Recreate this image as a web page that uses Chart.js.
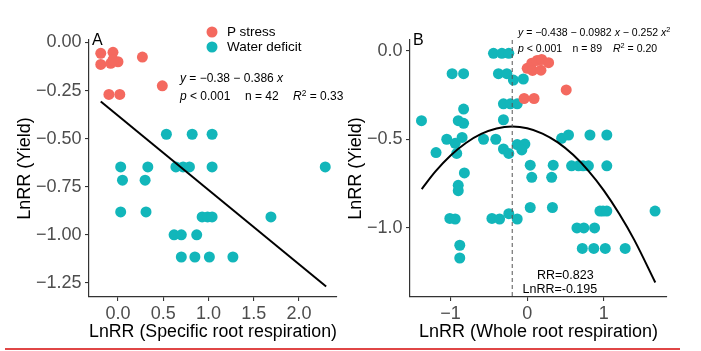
<!DOCTYPE html>
<html><head><meta charset="utf-8">
<script src="https://cdn.jsdelivr.net/npm/chart.js@4/dist/chart.umd.min.js"></script>
<style>
html,body{margin:0;padding:0;background:#fff;width:701px;height:351px;overflow:hidden;font-family:"Liberation Sans",Arial,sans-serif;}
#wrap{position:relative;width:701px;height:351px;}
canvas{position:absolute;top:0;}
#cA{left:0;} #cB{left:335px;}
.t{position:absolute;white-space:nowrap;color:#000;line-height:1;transform:translateY(-50%);}
.t sup{font-size:0.7em;vertical-align:0.45em;line-height:0;}
.lg{position:absolute;width:11px;height:11px;border-radius:50%;transform:translate(-50%,-50%);}
#redline{position:absolute;left:5px;top:348px;width:675px;height:1.5px;background:#e04646;}
</style></head><body>
<div id="wrap">
<canvas id="cA" width="350" height="351"></canvas>
<canvas id="cB" width="366" height="351"></canvas>
<div id="overlay"></div>
<div id="redline"></div>
</div>
<script>
// ---------- data ----------
const seriesNames = ["P stress", "Water deficit"];
const seriesColors = ["#F4695F", "#12B6BA"];

// Panel A: LnRR (Specific root respiration) vs LnRR (Yield)
const aPStressX = [-0.19, -0.055, -0.19, -0.08, 0.0, -0.055, 0.27, 0.49, -0.10, 0.02];
const aPStressY = [-0.056, -0.051, -0.114, -0.108, -0.100, -0.091, -0.076, -0.225, -0.270, -0.270];
const aWaterX = [0.535, 0.82, 1.04,
  0.03, 0.33, 0.64, 0.72, 0.79, 1.04, 2.29,
  0.05, 0.30,
  0.03, 0.31,
  0.93, 0.99, 1.04, 1.69,
  0.62, 0.70, 0.87,
  0.70, 0.85, 1.01, 1.27];
const aWaterY = [-0.477, -0.477, -0.477,
  -0.647, -0.647, -0.647, -0.647, -0.647, -0.647, -0.647,
  -0.716, -0.716,
  -0.881, -0.881,
  -0.907, -0.907, -0.907, -0.907,
  -1.0, -1.0, -1.0,
  -1.115, -1.115, -1.115, -1.115];
const aFitX = [-0.19, 2.30];
const aFitY = [-0.307, -1.268];

// Panel B: LnRR (Whole root respiration) vs LnRR (Yield)
const bPStressX = [0.0, 0.06, 0.13, 0.19, 0.28, 0.07, 0.18, -0.04, 0.09, 0.51];
const bPStressY = [-0.10, -0.071, -0.055, -0.05, -0.068, -0.112, -0.11, -0.27, -0.27, -0.222];
const bWaterX = [-0.44, -0.33, -0.24,
  -0.98, -0.83, -0.375, -0.265, -0.18, -0.05,
  -0.83,
  -0.31, -0.22, -0.13,
  -1.38, -0.90, -0.83, -0.31,
  -1.05, -0.94, -0.85,
  -1.19, -0.92,
  -0.57, -0.41,
  -0.31, -0.24, -0.13, -0.03, -0.07,
  0.45, 0.54, 0.82, 1.04,
  0.04, 0.34, 0.58, 0.67, 0.73, 0.80, 1.04,
  -0.82,
  0.06, 0.32,
  -0.90, -0.90,
  0.04, 0.33,
  0.95, 0.99, 1.04, 1.67,
  -1.01, -0.94,
  -0.46, -0.36, -0.24, -0.13,
  0.65, 0.74, 0.88,
  -0.88, -0.88,
  0.72, 0.87, 1.02, 1.28];
const bWaterY = [-0.015, -0.015, -0.015,
  -0.13, -0.13, -0.13, -0.13, -0.166, -0.16,
  -0.33,
  -0.30, -0.30, -0.30,
  -0.395, -0.395, -0.41, -0.39,
  -0.50, -0.523, -0.49,
  -0.575, -0.58,
  -0.50, -0.50,
  -0.555, -0.58, -0.53, -0.527, -0.56,
  -0.495, -0.476, -0.476, -0.476,
  -0.646, -0.646, -0.65, -0.65, -0.65, -0.65, -0.65,
  -0.69,
  -0.715, -0.715,
  -0.76, -0.79,
  -0.885, -0.885,
  -0.905, -0.905, -0.905, -0.905,
  -0.947, -0.95,
  -0.947, -0.95, -0.92, -0.95,
  -1.0, -1.0, -1.0,
  -1.098, -1.17,
  -1.116, -1.116, -1.116, -1.116];
const bFitX = [-1.377, -1.2, -1.0, -0.8, -0.6, -0.4, -0.195, 0, 0.2, 0.4, 0.6, 0.8, 1.0, 1.2, 1.4, 1.673];
const bFitY = [-0.781, -0.683, -0.592, -0.521, -0.470, -0.439, -0.4285, -0.438, -0.468, -0.518, -0.588, -0.678, -0.788, -0.919, -1.069, -1.308];
const bVlineX = [-0.195, -0.195];
const bVlineY = [0.06, -1.39];

// axes
const aXTicks = [0, 0.5, 1.0, 1.5, 2.0];
const aXTickLabels = ["0.0", "0.5", "1.0", "1.5", "2.0"];
const aYTicks = [-1.25, -1.0, -0.75, -0.5, -0.25, 0];
const aYTickLabels = ["\u22121.25", "\u22121.00", "\u22120.75", "\u22120.50", "\u22120.25", "0.00"];
const bXTicks = [-1, 0, 1];
const bXTickLabels = ["\u22121", "0", "1"];
const bYTicks = [-1.0, -0.5, 0];
const bYTickLabels = ["\u22121.0", "\u22120.5", "0.0"];
const xTitleA = "LnRR (Specific root respiration)";
const xTitleB = "LnRR (Whole root respiration)";
const yTitle = "LnRR (Yield)";

// ---------- helpers ----------
const zip = (xs, ys) => xs.map((x, i) => ({x, y: ys[i]}));
const FONT = '"Liberation Sans", Arial, sans-serif';

function axis(opts) {
  const isX = opts.axis === 'x';
  return {
    type: 'linear',
    position: isX ? 'bottom' : 'left',
    min: opts.min, max: opts.max,
    afterBuildTicks: s => { s.ticks = opts.ticks.map(v => ({value: v})); },
    afterFit: s => { if (isX) s.height = opts.size; else s.width = opts.size; },
    ticks: {
      color: '#4d4d4d',
      font: {family: FONT, size: 18},
      padding: isX ? 2 : 3.5,
      autoSkip: false, maxRotation: 0,
      callback: (v, i) => opts.labels[i]
    },
    grid: {drawOnChartArea: false, drawTicks: true, tickLength: 4, color: '#333', lineWidth: 1.1},
    border: {display: true, color: '#333', width: 1.2},
    title: {
      display: true, text: opts.title, color: '#000',
      font: {family: FONT, size: 18, lineHeight: 1.2},
      padding: isX ? {top: 0, bottom: 8.5} : {top: opts.tpad, bottom: 0}
    }
  };
}

function pointSet(label, data, color) {
  return {type: 'scatter', label, data, backgroundColor: color, borderWidth: 0,
          pointRadius: 5.5, pointHoverRadius: 5.5};
}

function baseOptions(padding, scales) {
  return {
    responsive: false, animation: false,
    layout: {padding},
    plugins: {legend: {display: false}, tooltip: {enabled: false}},
    scales
  };
}

// ---------- Panel A ----------
new Chart(document.getElementById('cA'), {
  type: 'scatter',
  data: {datasets: [
    {type: 'line', data: zip(aFitX, aFitY), borderColor: '#000', borderWidth: 2, pointRadius: 0, fill: false},
    pointSet(seriesNames[0], zip(aPStressX, aPStressY), seriesColors[0]),
    pointSet(seriesNames[1], zip(aWaterX, aWaterY), seriesColors[1])
  ]},
  options: baseOptions({left: 0, top: 40, right: 13, bottom: 0}, {
    x: axis({axis: 'x', min: -0.32, max: 2.42, ticks: aXTicks, labels: aXTickLabels, size: 54, title: xTitleA}),
    y: axis({axis: 'y', min: -1.323, max: 0.013, ticks: aYTicks, labels: aYTickLabels, size: 89, title: yTitle, tpad: 14.7})
  })
});

// ---------- Panel B ----------
new Chart(document.getElementById('cB'), {
  type: 'scatter',
  data: {datasets: [
    {type: 'line', data: zip(bVlineX, bVlineY), borderColor: '#555', borderWidth: 1, borderDash: [4, 3], pointRadius: 0, fill: false},
    {type: 'line', data: zip(bFitX, bFitY), borderColor: '#000', borderWidth: 2, pointRadius: 0, fill: false, cubicInterpolationMode: 'monotone'},
    pointSet(seriesNames[0], zip(bPStressX, bPStressY), seriesColors[0]),
    pointSet(seriesNames[1], zip(bWaterX, bWaterY), seriesColors[1])
  ]},
  options: baseOptions({left: 0, top: 40, right: 34, bottom: 0}, {
    x: axis({axis: 'x', min: -1.53, max: 1.826, ticks: bXTicks, labels: bXTickLabels, size: 54, title: xTitleB}),
    y: axis({axis: 'y', min: -1.39, max: 0.06, ticks: bYTicks, labels: bYTickLabels, size: 75, title: yTitle, tpad: 10})
  })
});

// ---------- text overlays ----------
const overlay = document.getElementById('overlay');
function addText(html, left, top, size, extra) {
  const d = document.createElement('div');
  d.className = 't';
  d.style.left = left + 'px'; d.style.top = top + 'px'; d.style.fontSize = size + 'px';
  if (extra) Object.assign(d.style, extra);
  d.innerHTML = html;
  overlay.appendChild(d);
}
function addDot(x, y, color) {
  const d = document.createElement('div');
  d.className = 'lg'; d.style.left = x + 'px'; d.style.top = y + 'px'; d.style.background = color;
  overlay.appendChild(d);
}
// panel letters
addText('A', 92, 40, 16);
addText('B', 413, 40, 16);
// legend
addDot(212, 31.5, seriesColors[0]);
addDot(212, 47, seriesColors[1]);
addText(seriesNames[0], 227, 31.5, 13.5);
addText(seriesNames[1], 227, 47, 13.5);
// panel A equation
addText('<i>y</i> = \u22120.38 \u2212 0.386 <i>x</i>', 180, 78, 12);
addText('<i>p</i> &lt; 0.001', 180, 96, 12);
addText('n = 42', 245, 96, 12);
addText('<i>R</i><sup>2</sup> = 0.33', 293, 96, 12);
// panel B equation
addText('<i>y</i> = \u22120.438 \u2212 0.0982 <i>x</i> \u2212 0.252 <i>x</i><sup>2</sup>', 518, 32, 10.5);
addText('<i>p</i> &lt; 0.001', 518, 48, 10.5);
addText('n = 89', 572.5, 48, 10.5);
addText('<i>R</i><sup>2</sup> = 0.20', 613, 48, 10.5);
// RR annotation
addText('RR=0.823', 537, 274.5, 12.5);
addText('LnRR=-0.195', 522.5, 289, 12.5);
</script>
</body></html>
